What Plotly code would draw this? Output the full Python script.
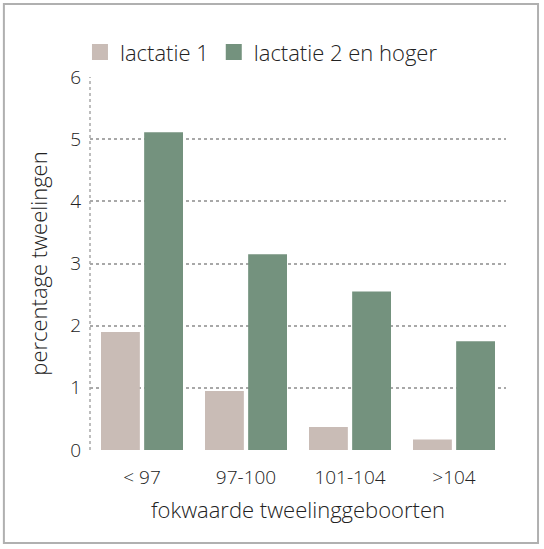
import plotly.graph_objects as go

categories = ["< 97", "97-100", "101-104", ">104"]
lactatie_1 = [1.90, 0.95, 0.37, 0.17]
lactatie_2 = [5.11, 3.15, 2.55, 1.75]
series_names = ["lactatie 1", "lactatie 2 en hoger"]
y_ticks = [0, 1, 2, 3, 4, 5, 6]

colors = ["#c9bcb6", "#74927e"]
font = "Open Sans"
text_color = "#222222"

fig = go.Figure()
for name, values, color in zip(series_names, [lactatie_1, lactatie_2], colors):
    fig.add_trace(go.Bar(x=categories, y=values, name=name, marker_color=color,
                         marker_line_width=0, showlegend=False))
    # bigger legend squares through a dummy scatter
    fig.add_trace(go.Scatter(x=[None], y=[None], mode="markers", name=name,
                             marker=dict(symbol="square", size=19, color=color)))

fig.update_layout(
    width=544,
    height=549,
    margin=dict(l=90, r=38, t=77, b=99, autoexpand=False),
    paper_bgcolor="white",
    plot_bgcolor="white",
    font=dict(family=font, color=text_color, size=19, weight=300),
    barmode="group",
    bargap=0.17,
    bargroupgap=0.1,
    legend=dict(orientation="h", xref="container", yref="container",
                x=0.147, y=0.905, xanchor="left", yanchor="middle",
                font=dict(size=22, weight=300), itemwidth=30, bgcolor="rgba(0,0,0,0)"),
    xaxis=dict(showgrid=False, showline=False, ticks="",
               tickfont=dict(size=19, weight=300), ticklabelstandoff=14,
               title=dict(text="fokwaarde tweelinggeboorten", font=dict(size=22, weight=300),
                          standoff=13)),
    yaxis=dict(range=[0, 6], tickvals=y_ticks, showgrid=True, gridcolor="#a8a8a8",
               griddash="dot", gridwidth=1.5, zeroline=False, showline=False, ticks="",
               tickfont=dict(size=19, weight=300), ticklabelstandoff=8,
               title=dict(text="percentage tweelingen", font=dict(size=22, weight=300),
                          standoff=16)),
    shapes=[
        dict(type="line", xref="paper", yref="paper", x0=0, x1=0, y0=0, y1=1,
             line=dict(color="#a8a8a8", width=1.5, dash="dot")),
        dict(type="rect", xref="paper", yref="paper", x0=-0.207, x1=1.077,
             y0=-0.249, y1=1.196, line=dict(color="#b0b0b0", width=2), layer="below"),
    ],
)

# drop the page's default body margin so the figure sits at the window corner
fig.write_html("out.html", config={"displayModeBar": False},
               post_script="document.body.style.margin = '0';")
